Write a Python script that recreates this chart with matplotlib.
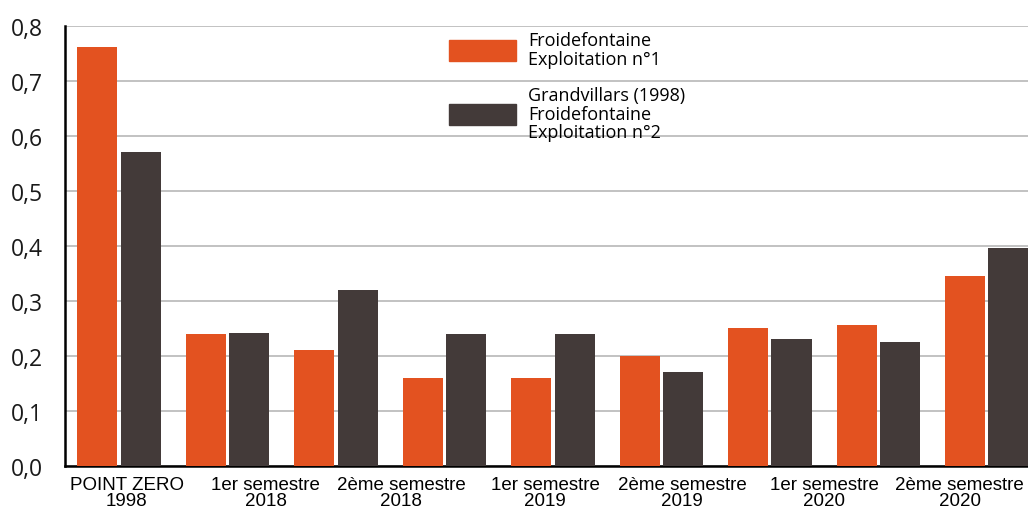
import numpy as np
import matplotlib.pyplot as plt
from matplotlib.patches import Patch

# données
periodes = ["POINT ZERO\n1998", "1er semestre\n2018", "2ème semestre\n2018",
            "1er semestre\n2019", "2ème semestre\n2019", "1er semestre\n2020",
            "2ème semestre\n2020"]
pos_labels = [0.07, 1.35, 2.6, 3.93, 5.19, 6.5, 7.75]
exploitation_1 = [0.762, 0.240, 0.211, 0.160, 0.160, 0.200, 0.251, 0.256, 0.345]
exploitation_2 = [0.571, 0.242, 0.320, 0.240, 0.240, 0.171, 0.231, 0.226, 0.396]
yticks = [0.0, 0.1, 0.2, 0.3, 0.4, 0.5, 0.6, 0.7, 0.8]

orange = "#E35220"
gris = "#433A39"

fig = plt.figure(figsize=(10.28, 5.10), dpi=100)
ax = fig.add_axes([0.063, 0.084, 0.937, 0.863])

x = np.arange(len(exploitation_1))
ax.bar(x - 0.2, exploitation_1, width=0.37, color=orange, zorder=3)
ax.bar(x + 0.2, exploitation_2, width=0.37, color=gris, zorder=3)

ax.set_xlim(-0.5, 8.38)
ax.set_ylim(0, 0.8)
ax.set_yticks(yticks)
ax.set_yticklabels([f"{v:.1f}".replace(".", ",") for v in yticks],
                   fontsize=16.5, family="Open Sans", color="#1a1a1a")
ax.set_xticks(pos_labels)
ax.set_xticklabels(periodes, fontsize=13.5, family="Liberation Sans",
                   linespacing=0.9)
ax.tick_params(axis="both", length=0)
ax.tick_params(axis="y", pad=16)
ax.tick_params(axis="x", pad=7)

ax.grid(axis="y", color="#BDBDBD", linewidth=1.3, zorder=0)
for s in ["top", "right"]:
    ax.spines[s].set_visible(False)
ax.spines["left"].set_linewidth(1.8)
ax.spines["bottom"].set_linewidth(1.8)

handles = [Patch(color=orange), Patch(color=gris)]
labels = ["Froidefontaine\nExploitation n°1",
          "Grandvillars (1998)\nFroidefontaine\nExploitation n°2"]
leg = ax.legend(handles, labels, loc="upper left", bbox_to_anchor=(0.382, 1.025),
                frameon=False, handlelength=3.7, handleheight=1.4,
                handletextpad=0.7, labelspacing=1.0,
                prop={"family": "Open Sans", "size": 13})
for t in leg.get_texts():
    t.set_linespacing(1.05)

fig.savefig("out.png", dpi=100)
